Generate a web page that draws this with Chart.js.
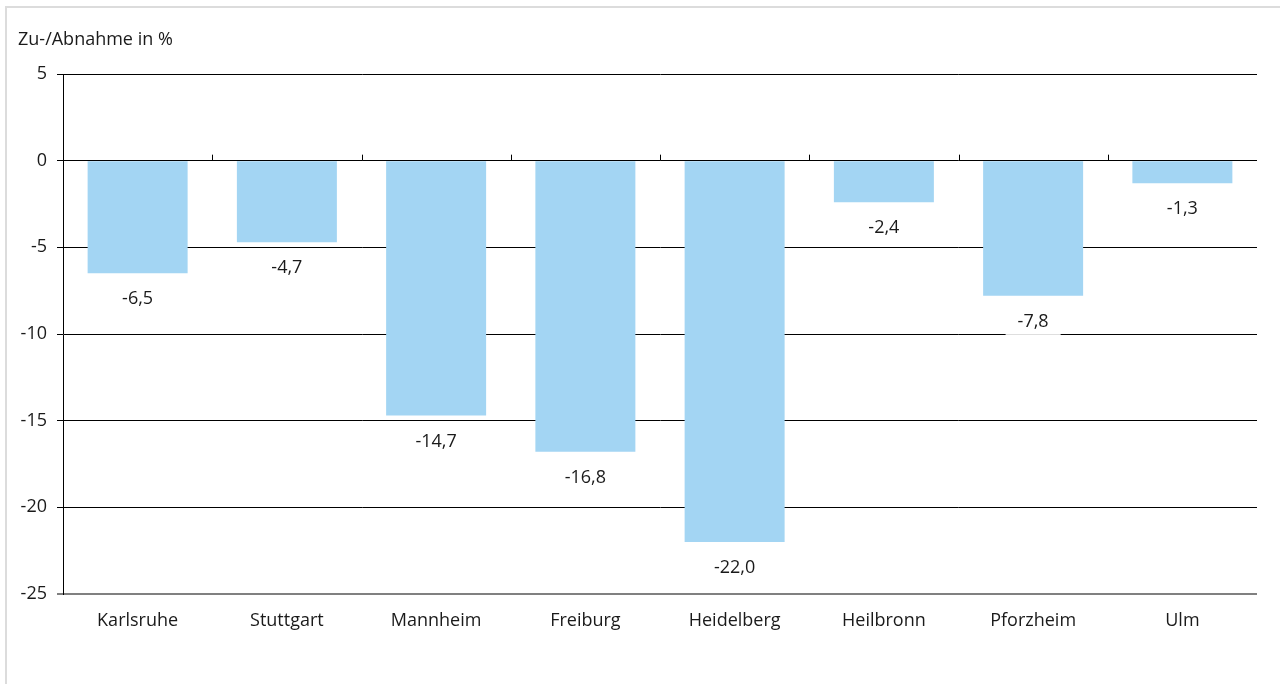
<!DOCTYPE html>
<html>
<head>
<meta charset="utf-8">
<script src="https://cdn.jsdelivr.net/npm/chart.js@4/dist/chart.umd.min.js"></script>
<style>
  html, body { margin: 0; padding: 0; background: #fff; overflow: hidden; }
  #frame { position: absolute; left: 5px; top: 6px; width: 1290px; height: 700px; border: 2px solid #dcdcdc; box-sizing: border-box; }
  #wrap { position: absolute; left: 0; top: 0; width: 1280px; height: 684px; }
</style>
</head>
<body>
<div id="frame"></div>
<div id="wrap"><canvas id="c"></canvas></div>
<script>
// ── Daten ─────────────────────────────────────────────────────────────
const cities = ['Karlsruhe', 'Stuttgart', 'Mannheim', 'Freiburg', 'Heidelberg', 'Heilbronn', 'Pforzheim', 'Ulm'];
const change = [-6.5, -4.7, -14.7, -16.8, -22.0, -2.4, -7.8, -1.3];
const yTicks = [5, 0, -5, -10, -15, -20, -25];
const yTitle = 'Zu-/Abnahme in %';

const FONT = '"Open Sans", "Noto Sans", sans-serif';
const fmt = v => v.toFixed(1).replace('.', ',');

// ── Plugins ───────────────────────────────────────────────────────────
const extras = {
  id: 'extras',
  afterDatasetsDraw(chart) {
    const ctx = chart.ctx;
    const meta = chart.getDatasetMeta(0);
    ctx.save();
    ctx.font = '18px ' + FONT;
    ctx.textAlign = 'center';
    ctx.textBaseline = 'middle';
    meta.data.forEach((bar, i) => {
      const txt = fmt(change[i]);
      const w = ctx.measureText(txt).width + 24;
      const y = bar.y + 26;
      ctx.fillStyle = '#fff';
      ctx.fillRect(bar.x - w / 2, y - 13, w, 26);
      ctx.fillStyle = '#1a1a1a';
      ctx.fillText(txt, bar.x, y);
    });
    // Trennstriche an der Nulllinie
    const xs = chart.scales.x, ys = chart.scales.y;
    const y0 = ys.getPixelForValue(0);
    ctx.strokeStyle = '#000';
    ctx.lineWidth = 1;
    for (let i = 1; i < cities.length; i++) {
      const x = Math.round((xs.getPixelForTick(i - 1) + xs.getPixelForTick(i)) / 2) + 0.5;
      ctx.beginPath();
      ctx.moveTo(x, y0);
      ctx.lineTo(x, y0 - 6);
      ctx.stroke();
    }
    // Achsentitel
    ctx.textAlign = 'left';
    ctx.font = '18px ' + FONT;
    ctx.fillText(yTitle, 18, 40);
    ctx.restore();
  }
};

new Chart(document.getElementById('c'), {
  type: 'bar',
  data: {
    labels: cities,
    datasets: [{ data: change, backgroundColor: '#a3d5f3', borderWidth: 0, barPercentage: 0.67, categoryPercentage: 1 }]
  },
  options: {
    responsive: true, maintainAspectRatio: false, animation: false,
    layout: { padding: { top: 74, right: 23, left: 0, bottom: 0 } },
    plugins: { legend: { display: false }, tooltip: { enabled: false } },
    scales: {
      x: {
        grid: { display: false, drawTicks: false },
        border: { display: false },
        ticks: { color: '#1a1a1a', font: { family: FONT, size: 18 }, padding: 16 },
        afterFit: s => { s.height = 90; }
      },
      y: {
        min: -25, max: 5,
        afterBuildTicks: s => { s.ticks = yTicks.map(v => ({ value: v })); },
        afterFit: s => { s.width = 63; },
        grid: {
          color: c => c.tick && c.tick.value === -25 ? '#808080' : '#000',
          lineWidth: c => c.tick && c.tick.value === -25 ? 2 : 1,
          tickLength: 6,
          tickColor: c => c.tick && c.tick.value === -25 ? '#808080' : '#000'
        },
        border: { display: true, color: '#000', width: 1 },
        ticks: { color: '#1a1a1a', font: { family: FONT, size: 18 }, padding: 10, callback: v => String(v) }
      }
    }
  },
  plugins: [extras]
});
</script>
</body>
</html>
